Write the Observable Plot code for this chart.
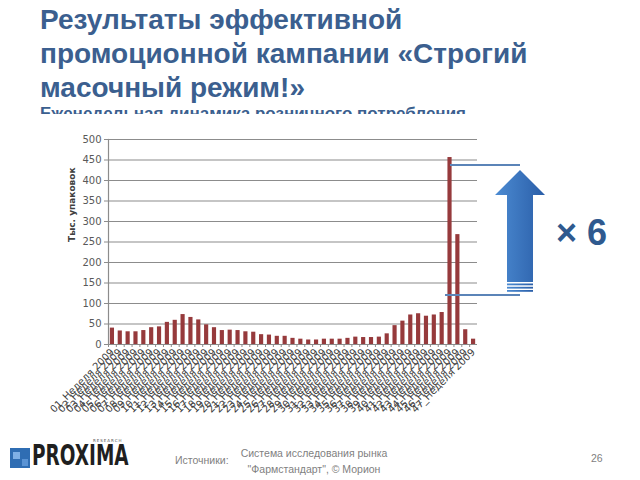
<!DOCTYPE html>
<html>
<head>
<meta charset="utf-8">
<script src="https://cdn.jsdelivr.net/npm/d3@7"></script>
<script src="https://cdn.jsdelivr.net/npm/@observablehq/plot@0.6"></script>
<style>
  html, body { margin: 0; padding: 0; background: #fff; }
  #page { position: relative; width: 640px; height: 480px; overflow: hidden; background: #fff; }
  .title { position: absolute; left: 40px; top: 3px; font-family: "Liberation Sans", Arial, sans-serif; font-weight: bold; font-size: 28px; line-height: 34px; color: #3b5f8f; white-space: nowrap; }
  .subtitle { position: absolute; left: 40px; top: 104px; height: 10px; overflow: hidden; font-family: "Liberation Sans", Arial, sans-serif; font-weight: bold; font-size: 17px; line-height: 20px; color: #3b5f8f; white-space: nowrap; }
  #chart { position: absolute; left: 0; top: 120px; }
  #overlay { position: absolute; left: 0; top: 0; pointer-events: none; }
  .foot { position: absolute; font-family: "Liberation Sans", Arial, sans-serif; color: #7f7f7f; font-size: 10.5px; white-space: nowrap; }
  .logo { position: absolute; left: 32px; top: 445px; font-family: "DejaVu Sans", sans-serif; font-weight: bold; font-size: 28px; line-height: 22px; color: #1f1f1f; transform: scaleX(0.66); transform-origin: 0 0; }
  .research { position: absolute; left: 93px; top: 438px; font-family: "DejaVu Sans", sans-serif; font-size: 4px; line-height: 5px; color: #555; letter-spacing: 1px; }
</style>
</head>
<body>
<div id="page">
  <div class="title">Результаты эффективной<br>промоционной кампании «Строгий<br>масочный режим!»</div>
  <div class="subtitle">Еженедельная динамика розничного потребления</div>
  <div id="chart"></div>
  <svg id="overlay" width="640" height="480"></svg>
  <div style="position:absolute;left:10px;top:448px;width:20px;height:20px;background:#2f6db3;"></div>
  <div style="position:absolute;left:13px;top:452px;width:7px;height:7px;background:#7fb0e6;"></div>
  <div style="position:absolute;left:22px;top:459px;width:6px;height:7px;background:#5a93d4;"></div>
  <div class="logo">PROXIMA</div>
  <div class="research">RESEARCH</div>
  <div class="foot" style="left:175px;top:454px;">Источники:</div>
  <div class="foot" style="left:236px;top:445px;width:156px;text-align:center;line-height:16px;">Система исследования рынка<br>"Фармстандарт", © Морион</div>
  <div class="foot" style="left:591px;top:452px;">26</div>
</div>
<script>
// Categories: weeks of 2009
const weekNumbers = ["01","02","03","04","05","06","07","08","09","10","11","12","13","14","15","16",
  "17","18","19","20","21","22","23","24","25","26","27","28","29","30","31","32",
  "33","34","35","36","37","38","39","40","41","42","43","44","45","46","47"];
const weekLabels = weekNumbers.map(n => n + "_Неделя 2009");
// Weekly retail consumption, thousand packs
const values = [40, 33, 31, 31, 34, 41, 43, 54, 59, 73, 66, 60, 48, 41, 34, 35,
  34, 31, 30, 24, 23, 20, 20, 15, 13, 11, 11, 13, 13, 13, 15, 18,
  17, 17, 18, 26, 46, 57, 72, 75, 69, 72, 78, 456, 268, 36, 13];
const yTicks = [0, 50, 100, 150, 200, 250, 300, 350, 400, 450, 500];
const yLabel = "Тыс. упаковок";

const data = weekLabels.map((w, i) => ({week: w, value: values[i]}));

const W = 640, H = 310, ML = 108, MR = 163, MT = 19, MB = 86;
const step = (W - ML - MR) / weekLabels.length;

const chart = Plot.plot({
  width: W, height: H,
  marginTop: MT, marginBottom: MB, marginLeft: ML, marginRight: MR,
  style: {fontFamily: "DejaVu Sans, sans-serif", fontSize: "9.5px", color: "#595959", background: "transparent", overflow: "visible"},
  x: {domain: weekLabels, paddingInner: 0.47, paddingOuter: 0.235, label: null},
  y: {domain: [0, 500], label: null},
  marks: [
    Plot.gridY(yTicks, {stroke: "#8c8c8c", strokeOpacity: 1, strokeWidth: 1.2}),
    Plot.barY(data, {x: "week", y: "value", fill: "#963a3c"}),
    Plot.ruleY([0], {stroke: "#8c8c8c", strokeWidth: 1.2}),
    Plot.frame({anchor: "left", stroke: "#8c8c8c", strokeWidth: 1.2}),
    Plot.axisY(yTicks, {tickSize: 4, tickPadding: 3, stroke: "#8c8c8c", fill: "#595959", label: null, fontSize: 10}),
    Plot.axisX({tickSize: 3, text: null, dx: -step / 2, stroke: "#8c8c8c", label: null}),
    Plot.axisX({tickSize: 0, tickRotate: -45, tickPadding: 6, fontSize: 10, fill: "#404040", label: null}),
    Plot.text([yLabel], {frameAnchor: "left", rotate: -90, dx: -36, fontWeight: "bold", fontSize: 9, fill: "#404040"})
  ]
});
document.getElementById("chart").appendChild(chart);

// Decorative annotation: brackets + arrow + "× 6"
const svg = d3.select("#overlay");
const defs = svg.append("defs");
const g = defs.append("linearGradient").attr("id", "ag").attr("x1", "0").attr("x2", "1").attr("y1", "0").attr("y2", "0");
g.append("stop").attr("offset", "0").attr("stop-color", "#4c8bd2");
g.append("stop").attr("offset", "1").attr("stop-color", "#2a5ea8");
svg.append("line").attr("x1", 450).attr("x2", 520).attr("y1", 165).attr("y2", 165).attr("stroke", "#5b84b8").attr("stroke-width", 2);
svg.append("line").attr("x1", 445).attr("x2", 520).attr("y1", 295).attr("y2", 295).attr("stroke", "#5b84b8").attr("stroke-width", 2);
svg.append("path").attr("d", "M520,170 L545,195 L533,195 L533,282 L507,282 L507,195 L495,195 Z").attr("fill", "url(#ag)");
[283.5, 286.8, 290].forEach(y => svg.append("rect").attr("x", 507).attr("y", y).attr("width", 26).attr("height", 1.8).attr("fill", "url(#ag)"));
svg.append("text").attr("x", 556).attr("y", 245).attr("font-family", "Liberation Sans, Arial, sans-serif").attr("font-weight", "bold").attr("font-size", 36).attr("fill", "#2f5a8f").text("× 6");
</script>
</body>
</html>
